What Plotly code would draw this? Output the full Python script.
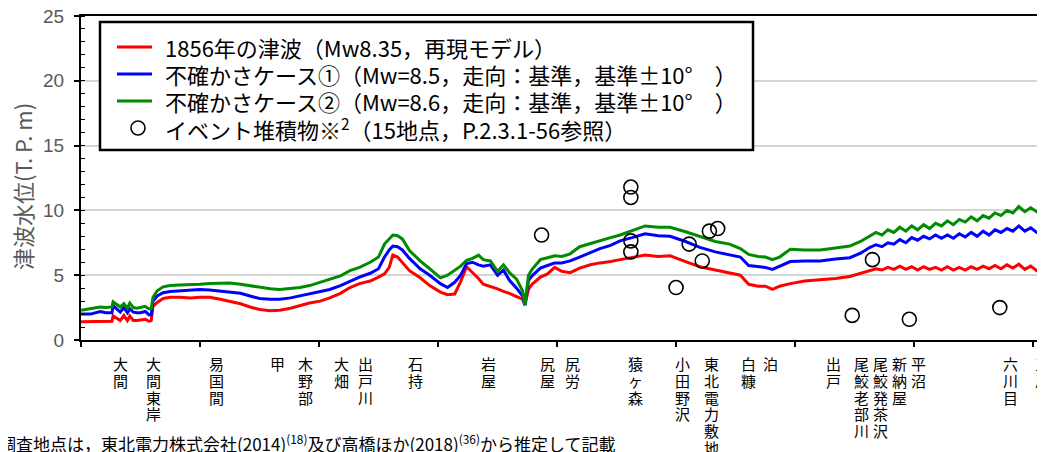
import plotly.graph_objects as go

# distance along the coast (km) shared by the three simulated series
dist_km = [0.0, 0.8, 1.6, 2.1, 2.6, 2.7, 3.0, 3.3, 3.6, 3.9, 4.1, 4.4, 4.7, 5.0, 5.4, 5.7, 5.9,
           6.05, 6.4, 6.9, 7.5, 8.3, 9.2, 10.0, 10.8, 11.7, 12.5, 13.4, 14.2, 15.0, 15.9, 16.7,
           17.6, 18.4, 19.2, 20.1, 20.9, 21.8, 22.6, 23.4, 24.3, 25.0, 25.5, 25.9, 26.2, 26.6,
           27.0, 27.6, 28.5, 29.3, 30.2, 30.8, 31.4, 31.9, 32.4, 32.9, 33.4, 33.8, 34.4, 35.0,
           35.5, 36.0, 36.6, 37.1, 37.3, 37.6, 37.9, 38.6, 39.2, 39.8, 40.4, 41.1, 41.9, 42.8,
           43.6, 44.5, 45.3, 46.3, 47.4, 48.5, 49.5, 50.8, 52.0, 53.3, 54.5, 55.4, 56.1, 56.9,
           57.5, 58.1, 58.7, 59.6, 60.8, 62.1, 63.4, 64.6, 65.5, 66.3, 66.8, 67.3, 67.8, 68.3,
           68.8, 69.3, 69.8, 70.3, 70.8, 71.3, 71.8, 72.3, 72.8, 73.3, 73.8, 74.3, 74.8, 75.3,
           75.8, 76.3, 76.8, 77.3, 77.8, 78.3, 78.8, 79.3, 79.8, 80.3, 80.8, 81.2]

case_1856 = [1.4, 1.4, 1.45, 1.4, 1.45, 1.85, 1.7, 1.5, 1.9, 1.5, 1.85, 1.5, 1.5, 1.55, 1.6, 1.45, 1.5,
             2.6, 2.9, 3.2, 3.3, 3.3, 3.25, 3.3, 3.3, 3.15, 3.0, 2.8, 2.55, 2.35, 2.25, 2.3,
             2.45, 2.65, 2.85, 3.0, 3.25, 3.6, 4.05, 4.35, 4.55, 4.85, 5.1, 5.6, 6.55, 6.4,
             6.0, 5.35, 4.8, 4.2, 3.7, 3.5, 3.55, 4.5, 5.65, 5.2, 4.75, 4.3, 4.15, 3.95,
             3.75, 3.6, 3.35, 3.15, 2.7, 3.9, 4.3, 4.85, 5.1, 5.6, 5.3, 5.2, 5.55, 5.8,
             5.95, 6.05, 6.2, 6.35, 6.55, 6.45, 6.5, 6.05, 5.65, 5.4, 5.15, 5.0, 4.3, 4.15,
             4.15, 3.9, 4.15, 4.35, 4.55, 4.65, 4.75, 4.9, 5.15, 5.4, 5.5, 5.4, 5.6, 5.45,
             5.7, 5.45, 5.65, 5.4, 5.65, 5.45, 5.6, 5.4, 5.65, 5.4, 5.6, 5.4, 5.65, 5.45,
             5.7, 5.5, 5.75, 5.5, 5.8, 5.55, 5.85, 5.45, 5.7, 5.35, 5.4, 5.2]

case_1 = [2.0, 2.0, 2.2, 2.1, 2.1, 2.65, 2.4, 2.15, 2.5, 2.1, 2.4, 2.15, 2.1, 2.1, 2.2, 1.95, 1.95,
          3.0, 3.4, 3.65, 3.75, 3.8, 3.8, 3.9, 3.85, 3.75, 3.7, 3.6, 3.4, 3.2, 3.15, 3.15,
          3.25, 3.4, 3.55, 3.7, 3.9, 4.2, 4.55, 4.85, 5.15, 5.5, 6.4, 6.95, 7.25, 7.2,
          6.95, 6.3, 5.5, 5.0, 4.35, 4.05, 4.45, 5.0, 5.9, 6.0, 5.8, 5.7, 5.8, 5.0,
          5.4, 4.6, 4.0, 3.4, 2.7, 4.6, 4.95, 5.55, 5.75, 5.95, 5.95, 6.1, 6.4, 6.75,
          7.05, 7.3, 7.65, 7.9, 8.2, 8.05, 8.0, 7.6, 7.15, 6.8, 6.6, 6.4, 5.75, 5.65,
          5.6, 5.45, 5.7, 6.05, 6.1, 6.1, 6.25, 6.35, 6.7, 7.15, 7.35, 7.2, 7.5, 7.4,
          7.75, 7.5, 7.9, 7.7, 8.0, 7.8, 8.1, 7.85, 8.1, 7.85, 8.2, 7.95, 8.3, 8.0,
          8.4, 8.1, 8.5, 8.3, 8.6, 8.4, 8.8, 8.4, 8.65, 8.3, 8.4, 8.1]

case_2 = [2.3, 2.4, 2.55, 2.5, 2.55, 2.95, 2.75, 2.55, 2.8, 2.45, 2.85, 2.5, 2.45, 2.5, 2.6, 2.4, 2.45,
          3.3, 3.8, 4.1, 4.2, 4.25, 4.25, 4.3, 4.35, 4.35, 4.4, 4.3, 4.2, 4.05, 3.95, 3.9,
          3.95, 4.05, 4.2, 4.45, 4.65, 4.95, 5.35, 5.6, 6.0, 6.4, 7.4, 7.85, 8.1, 8.05,
          7.8, 6.9, 6.1, 5.5, 4.8, 5.0, 5.35, 5.7, 6.15, 6.3, 6.55, 6.2, 6.1, 5.3,
          5.8, 5.2, 4.7, 3.8, 2.7, 5.0, 5.45, 6.2, 6.35, 6.5, 6.45, 6.65, 7.2, 7.45,
          7.7, 7.9, 8.1, 8.45, 8.8, 8.7, 8.7, 8.35, 8.0, 7.6, 7.4, 7.05, 6.6, 6.45,
          6.4, 6.2, 6.4, 7.0, 6.95, 6.95, 7.1, 7.25, 7.6, 8.05, 8.3, 8.1, 8.5, 8.3,
          8.7, 8.4, 8.8, 8.5, 8.9, 8.6, 9.0, 8.8, 9.2, 8.9, 9.3, 9.1, 9.5, 9.2,
          9.6, 9.4, 9.8, 9.6, 10.0, 9.8, 10.3, 9.9, 10.2, 9.9, 10.0, 9.8]

# event deposits (15 sites)
deposit_km = [38.7, 46.2, 46.2, 46.2, 46.2, 50.0, 51.1, 52.2, 52.8, 53.5, 64.8, 66.5, 69.6, 77.2]
deposit_h = [8.1, 11.8, 11.0, 7.65, 6.8, 4.05, 7.4, 6.1, 8.4, 8.6, 1.9, 6.2, 1.6, 2.5]

# place names along the coast (km of each label's column)
place_names = ["大間", "大間東岸", "易国間", "甲", "木野部", "大畑", "出戸川", "石持", "岩屋",
               "尻屋", "尻労", "猿ヶ森", "小田野沢", "東北電力敷地", "白糠", "泊", "出戸",
               "尾鮫老部川", "尾鮫発茶沢", "新納屋", "平沼", "六川目", "三川目"]
place_km = [3.3, 6.1, 11.4, 16.5, 18.9, 21.9, 23.9, 28.1, 34.2, 39.2, 41.3, 46.6, 50.5, 53.0,
            56.1, 57.9, 63.2, 65.6, 67.2, 68.8, 70.4, 78.1, 80.8]

y_ticks = [0, 5, 10, 15, 20, 25]

legend_names = ["1856年の津波（Mw8.35，再現モデル）",
                "不確かさケース①（Mw=8.5，走向：基準，基準±10°　）",
                "不確かさケース②（Mw=8.6，走向：基準，基準±10°　）",
                "イベント堆積物※<sup>2</sup>（15地点，P.2.3.1-56参照）"]
series_colors = ["#ff0000", "#0000ff", "#008c00"]

FONT = "Noto Sans CJK JP"
OFF = 8                      # default page margin around the plot div
W, H = 1045 - OFF, 452 - OFF
ML, MR, MT, MB = 81 - OFF, 0, 16 - OFF, 112
PW, PH = W - ML - MR, H - MT - MB
X_MAX = 81.0


def px_x(px):
    """page pixel x -> paper coordinate"""
    return (px - OFF - ML) / PW


def px_y(py):
    """page pixel y -> paper coordinate"""
    return (H - MB - (py - OFF)) / PH


fig = go.Figure()
for ys, name, col in zip([case_1856, case_1, case_2], legend_names[:3], series_colors):
    fig.add_trace(go.Scatter(x=dist_km, y=ys, mode="lines", name=name,
                             line=dict(color=col, width=3), showlegend=False))
fig.add_trace(go.Scatter(x=deposit_km, y=deposit_h, mode="markers", name=legend_names[3],
                         marker=dict(symbol="circle-open", size=14, color="black",
                                     line=dict(width=1.6, color="black")), showlegend=False))

# location labels, written vertically one character per row
for name, km in zip(place_names, place_km):
    for i, ch in enumerate(name):
        fig.add_annotation(x=km, xref="x", y=px_y(364 + i * 16.6), yref="paper", text=ch,
                           showarrow=False, yanchor="middle", xanchor="center",
                           font=dict(family=FONT, size=15, color="black"))

fig.add_annotation(x=px_x(617), xref="paper", y=px_y(443), yref="paper", xanchor="right",
                   yanchor="middle",
                   text="※調査地点は，東北電力株式会社(2014)<sup>(18)</sup>及び高橋ほか(2018)<sup>(36)</sup>から推定して記載",
                   showarrow=False, font=dict(family=FONT, size=17, color="black"))

# y-axis title
fig.add_annotation(x=px_x(22), xref="paper", y=px_y(187), yref="paper", xanchor="center",
                   yanchor="middle", text="津波水位(T. P. m)", textangle=-90, showarrow=False,
                   font=dict(family=FONT, size=22, color="#595959"))

# legend box drawn by hand
fig.add_shape(type="rect", xref="paper", yref="paper", x0=px_x(100), x1=px_x(753),
              y0=px_y(150), y1=px_y(22), line=dict(color="black", width=2.5), fillcolor="white",
              layer="above")
rows = [47, 74, 101, 128]
for r, col in zip(rows[:3], series_colors):
    fig.add_shape(type="line", xref="paper", yref="paper", x0=px_x(117), x1=px_x(152),
                  y0=px_y(r), y1=px_y(r), line=dict(color=col, width=3), layer="above")
fig.add_shape(type="circle", xref="paper", yref="paper", x0=px_x(138 - 7), x1=px_x(138 + 7),
              y0=px_y(rows[3] + 7), y1=px_y(rows[3] - 7), line=dict(color="black", width=1.6),
              layer="above")
for r, name in zip(rows, legend_names):
    fig.add_annotation(x=px_x(163), xref="paper", y=px_y(r), yref="paper", text=name,
                       showarrow=False, xanchor="left", yanchor="middle",
                       font=dict(family=FONT, size=22, color="black"))

# partial box at the top right
fig.add_shape(type="rect", xref="paper", yref="paper", x0=px_x(915), x1=px_x(1060),
              y0=px_y(2), y1=px_y(-30), line=dict(color="black", width=2.5), fillcolor="white")

fig.update_layout(
    width=W, height=H,
    margin=dict(l=ML, r=MR, t=MT, b=MB, autoexpand=False),
    paper_bgcolor="white", plot_bgcolor="white",
    font=dict(family=FONT, color="black"),
    showlegend=False,
    xaxis=dict(range=[0, X_MAX], showgrid=False, zeroline=False, showticklabels=False,
               tickmode="linear", tick0=0, dtick=10, ticks="outside", ticklen=5, tickwidth=1.5,
               tickcolor="black", showline=True, linecolor="black", linewidth=2, mirror=True,
               automargin=False),
    yaxis=dict(range=[0, 25], tickvals=y_ticks, ticks="outside", ticklen=5, tickwidth=1.5,
               tickcolor="black", showline=True, linecolor="black", linewidth=2,
               showgrid=True, gridcolor="#d4d4d4", gridwidth=1.5, zeroline=False,
               automargin=False, ticklabeloverflow="allow",
               tickfont=dict(family="Liberation Sans Narrow, Arial Narrow, sans-serif", size=19,
                             color="#595959"),
               ticklabelstandoff=6,
               minor=dict(dtick=1, ticks="inside", ticklen=4, tickwidth=1, tickcolor="black",
                          showgrid=False)),
)

fig.write_html("out.html")
